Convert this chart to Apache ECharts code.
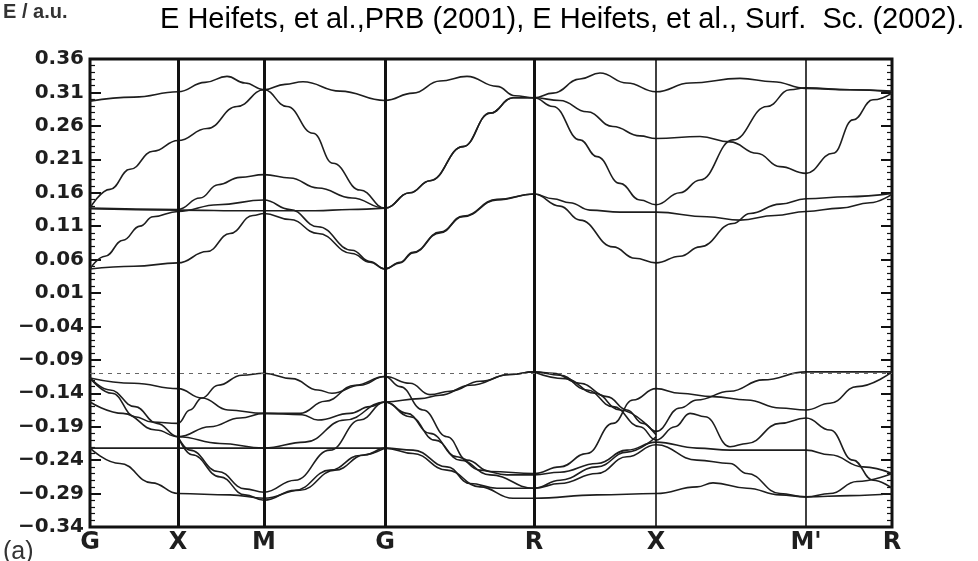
<!DOCTYPE html>
<html style="height: 100%">
<head>
<meta charset="utf-8">
<title>Band structure</title>
</head>
<body style="height: 100%; margin: 0; background: #fff">
<div id="container" style="width: 978px; height: 561px"></div>
<script type="text/javascript" src="https://cdn.jsdelivr.net/npm/echarts@6/dist/echarts.min.js"></script>
<script type="text/javascript">
// k path positions of the symmetry points and their names
var kPoints = [0, 88, 174, 295, 444, 566, 716, 802];
var kLabels = ['G', 'X', 'M', 'G', 'R', 'X', "M'", 'R'];
var kLineWidth = [3, 3, 3, 3, 3, 1.6, 1.6, 3];
var eMin = -0.34, eMax = 0.36, eStep = 0.05;
var valenceTop = -0.107;

// conduction bands [k, E]
var cb1 = [[0,0.297],[44,0.303],[88,0.311],[115,0.325],[137,0.334],[155,0.324],[174,0.314],[195,0.322],[213,0.326],[250,0.312],[295,0.298],[323,0.309],[350,0.327],[377,0.334],[407,0.319],[425,0.305],[444,0.302],[463,0.309],[490,0.330],[510,0.339],[537,0.324],[566,0.311],[600,0.324],[650,0.331],[683,0.326],[716,0.316],[760,0.314],[802,0.312]];
var cb2 = [[0,0.137],[20,0.165],[40,0.195],[63,0.222],[88,0.238],[117,0.256],[147,0.289],[174,0.314],[197,0.289],[223,0.249],[243,0.204],[270,0.164],[295,0.137],[320,0.160],[340,0.178],[373,0.229],[400,0.279],[423,0.302],[444,0.302],[470,0.298],[497,0.281],[523,0.259],[550,0.245],[566,0.241],[610,0.244],[640,0.236],[667,0.219],[690,0.199],[716,0.189],[743,0.219],[763,0.269],[783,0.299],[802,0.309]];
var cb3 = [[0,0.137],[88,0.135],[110,0.152],[128,0.172],[150,0.183],[174,0.187],[200,0.182],[228,0.167],[262,0.152],[295,0.137],[320,0.160],[340,0.178],[373,0.229],[400,0.279],[423,0.302],[444,0.302],[463,0.289],[490,0.239],[507,0.214],[530,0.174],[550,0.149],[566,0.142],[590,0.160],[610,0.179],[643,0.239],[677,0.289],[700,0.314],[716,0.317],[760,0.314],[802,0.311]];
var cb4 = [[0,0.136],[88,0.134],[160,0.133],[225,0.133],[260,0.135],[295,0.137]];
var cb5 = [[0,0.046],[15,0.065],[33,0.089],[50,0.110],[63,0.124],[88,0.132],[128,0.142],[174,0.149],[200,0.135],[228,0.109],[262,0.074],[280,0.057],[295,0.046],[310,0.055],[323,0.070],[350,0.100],[373,0.124],[407,0.149],[444,0.158],[470,0.140],[490,0.119],[523,0.079],[545,0.062],[566,0.055],[590,0.065],[610,0.079],[643,0.114],[660,0.129],[690,0.143],[716,0.151],[757,0.154],[802,0.159]];
var cb6 = [[0,0.046],[44,0.050],[88,0.055],[117,0.072],[140,0.099],[163,0.126],[174,0.129],[200,0.120],[228,0.099],[262,0.069],[280,0.056],[295,0.046],[310,0.056],[323,0.071],[350,0.101],[373,0.125],[407,0.150],[444,0.158],[463,0.151],[480,0.145],[500,0.134],[530,0.131],[566,0.131],[617,0.124],[650,0.119],[685,0.126],[716,0.132],[750,0.137],[780,0.145],[802,0.158]];

// valence bands [k, E]
var vb1 = [[0,-0.117],[44,-0.125],[88,-0.133],[112,-0.147],[138,-0.165],[174,-0.170],[210,-0.170],[235,-0.152],[265,-0.128],[295,-0.115],[320,-0.125],[340,-0.142],[360,-0.137],[390,-0.122],[420,-0.112],[444,-0.108],[463,-0.110],[490,-0.125],[517,-0.145],[537,-0.165],[553,-0.185],[566,-0.197],[590,-0.162],[607,-0.150],[640,-0.137],[673,-0.120],[716,-0.108],[760,-0.108],[802,-0.108]];
var vb2 = [[0,-0.117],[22,-0.140],[45,-0.175],[62,-0.183],[88,-0.185],[100,-0.165],[112,-0.147],[128,-0.128],[152,-0.113],[174,-0.110],[202,-0.118],[228,-0.135],[242,-0.140],[270,-0.128],[295,-0.115],[310,-0.130],[333,-0.165],[357,-0.205],[377,-0.240],[400,-0.257],[444,-0.260],[470,-0.250],[497,-0.230],[523,-0.185],[543,-0.150],[566,-0.133],[590,-0.140],[623,-0.145],[657,-0.150],[690,-0.162],[716,-0.165],[740,-0.155],[767,-0.130],[802,-0.108]];
var vb3 = [[0,-0.117],[20,-0.135],[45,-0.160],[67,-0.185],[88,-0.205],[120,-0.190],[150,-0.177],[174,-0.170],[212,-0.172],[228,-0.180],[260,-0.170],[280,-0.160],[295,-0.153],[330,-0.148],[350,-0.143],[380,-0.128],[420,-0.112],[444,-0.108],[470,-0.113],[497,-0.135],[523,-0.160],[550,-0.190],[566,-0.210],[585,-0.190],[600,-0.170],[615,-0.175],[640,-0.220],[657,-0.215],[690,-0.185],[716,-0.177],[740,-0.195],[763,-0.240],[783,-0.270],[802,-0.282]];
var vb4 = [[0,-0.153],[33,-0.170],[66,-0.195],[88,-0.205],[130,-0.215],[174,-0.222],[215,-0.213],[255,-0.180],[295,-0.153],[317,-0.170],[340,-0.200],[367,-0.235],[390,-0.255],[417,-0.262],[444,-0.262],[470,-0.258],[507,-0.245],[537,-0.225],[566,-0.213],[607,-0.222],[640,-0.225],[680,-0.225],[716,-0.225],[740,-0.232],[773,-0.250],[802,-0.260]];
var vb5 = [[0,-0.222],[88,-0.222],[174,-0.222],[295,-0.222],[323,-0.225],[357,-0.250],[380,-0.275],[407,-0.282],[444,-0.282],[470,-0.275],[507,-0.260],[537,-0.235],[566,-0.217],[607,-0.240],[640,-0.245],[657,-0.260],[690,-0.290],[716,-0.295],[740,-0.290],[767,-0.272],[802,-0.260]];
var vb6 = [[0,-0.222],[30,-0.245],[62,-0.274],[88,-0.290],[140,-0.292],[174,-0.297],[210,-0.285],[245,-0.255],[275,-0.232],[295,-0.222],[323,-0.230],[357,-0.255],[390,-0.280],[423,-0.297],[444,-0.297],[507,-0.292],[566,-0.290],[607,-0.280],[623,-0.274],[657,-0.282],[690,-0.292],[716,-0.295],[760,-0.293],[802,-0.290]];
var vb7 = [[88,-0.205],[100,-0.225],[128,-0.257],[155,-0.283],[174,-0.288],[205,-0.270],[240,-0.225],[270,-0.180],[295,-0.153],[320,-0.175],[345,-0.210],[370,-0.240],[400,-0.262],[444,-0.282],[470,-0.270],[507,-0.250],[537,-0.228],[566,-0.205]];
var vb8 = [[88,-0.205],[102,-0.232],[130,-0.265],[155,-0.292],[174,-0.300],[205,-0.285],[240,-0.255],[270,-0.233],[295,-0.222]];
var vb9 = [[444,-0.108],[475,-0.118],[505,-0.140],[530,-0.165],[566,-0.202]];

var bands = [cb1, cb2, cb3, cb4, cb5, cb6, vb1, vb2, vb3, vb4, vb5, vb6, vb7, vb8, vb9];

var dom = document.getElementById('container');
var myChart = echarts.init(dom);

function eLabel(v) {
    var s = Math.abs(v).toFixed(2);
    return (v < -0.001 ? '\u2212' : '') + s;
}

var series = bands.map(function (b) {
    return {
        type: 'line',
        data: b,
        showSymbol: false,
        smooth: 0.45,
        smoothMonotone: 'x',
        silent: true,
        lineStyle: { color: '#1e1e1e', width: 1.6 }
    };
});

// symmetry lines and the valence band top
series.push({
    type: 'line',
    data: [],
    silent: true,
    markLine: {
        symbol: 'none',
        silent: true,
        animation: false,
        label: { show: false },
        data: kPoints.slice(1, 7).map(function (k, i) {
            return { xAxis: k, lineStyle: { color: '#111', width: kLineWidth[i + 1], type: 'solid' } };
        }).concat([{ yAxis: valenceTop, lineStyle: { color: '#666', width: 1, type: [4, 5] } }])
    }
});

var yAxisBase = {
    type: 'value',
    min: eMin,
    max: eMax,
    interval: eStep,
    axisLine: { show: false },
    splitLine: { show: false },
    axisTick: { show: true, inside: true, length: 11, lineStyle: { color: '#111', width: 2 } },
    minorTick: { show: true, splitNumber: 5, length: 5, lineStyle: { color: '#111', width: 1.2 } },
    minorSplitLine: { show: false }
};

option = {
    animation: false,
    backgroundColor: '#fff',
    grid: {
        left: 90, right: 86, top: 59, bottom: 34,
        show: true, borderColor: '#111', borderWidth: 3
    },
    xAxis: {
        type: 'value',
        min: 0,
        max: 802,
        axisLine: { show: false },
        splitLine: { show: false },
        axisTick: { show: false },
        axisLabel: {
            customValues: kPoints,
            formatter: function (v) { return kLabels[kPoints.indexOf(v)]; },
            margin: 4,
            fontFamily: 'DejaVu Sans',
            fontWeight: 'bold',
            fontSize: 24,
            color: '#1e1e1e'
        }
    },
    yAxis: [
        echarts.util.merge({
            position: 'left',
            axisLabel: {
                formatter: eLabel,
                margin: 6,
                fontFamily: 'DejaVu Sans',
                fontWeight: 'bold',
                fontSize: 20,
                color: '#1e1e1e'
            }
        }, yAxisBase),
        echarts.util.merge({
            position: 'right',
            axisLabel: { show: false }
        }, yAxisBase)
    ],
    graphic: [
        { type: 'text', left: 3, top: 2, style: { text: 'E / a.u.', fontSize: 20, fontWeight: 'bold', fontFamily: 'Liberation Sans', fill: '#333' } },
        { type: 'text', left: 160, top: 5, style: { text: 'E Heifets, et al.,PRB (2001), E Heifets, et al., Surf.  Sc. (2002).', fontSize: 29, fontFamily: 'Liberation Sans Narrow, Liberation Sans', fill: '#000' } },
        { type: 'text', left: 3, top: 540, style: { text: '(a)', fontSize: 25, fontFamily: 'Liberation Sans', fill: '#333' } }
    ],
    series: series
};

if (option && typeof option === 'object') {
    myChart.setOption(option, true);
}
</script>
</body>
</html>
